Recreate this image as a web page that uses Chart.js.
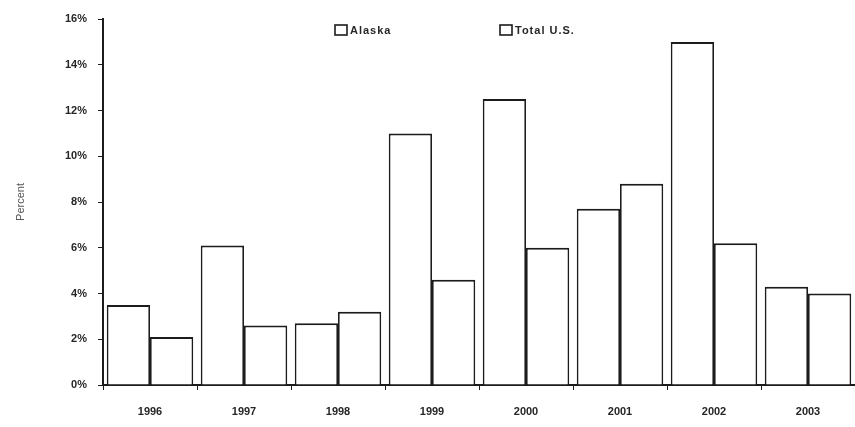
<!DOCTYPE html>
<html>
<head>
<meta charset="utf-8">
<script src="https://cdn.jsdelivr.net/npm/chart.js@4/dist/chart.umd.min.js"></script>
<style>
  html, body { margin: 0; padding: 0; background: #fff; }
  #wrap { width: 855px; height: 427px; }
</style>
</head>
<body>
<div id="wrap"><canvas id="chart" width="855" height="427"></canvas></div>
<script>
// Annual percent change, Alaska vs. Total U.S.
const years = ['1996', '1997', '1998', '1999', '2000', '2001', '2002', '2003'];
const alaska = [3.5, 6.1, 2.7, 11.0, 12.5, 7.7, 15.0, 4.3];
const totalUS = [2.1, 2.6, 3.2, 4.6, 6.0, 8.8, 6.2, 4.0];
const seriesNames = ['Alaska', 'Total U.S.'];
const yMin = 0, yMax = 16, yStep = 2;
const yTitle = 'Percent';

const INK = '#1c1c1c';
const TEXT = '#262626';
const FONT = "'Liberation Sans', Arial, sans-serif";

// Legend drawn inside the plot, above the bars
const insideLegend = {
  id: 'insideLegend',
  afterDraw(chart, args, opts) {
    const ctx = chart.ctx;
    ctx.save();
    ctx.font = 'bold 11px ' + FONT;
    ctx.letterSpacing = '1px';
    ctx.textBaseline = 'middle';
    ctx.textAlign = 'left';
    chart.data.datasets.forEach((ds, i) => {
      const x = opts.itemX[i];
      const y = opts.y;
      ctx.fillStyle = '#fff';
      ctx.strokeStyle = INK;
      ctx.lineWidth = 1.6;
      ctx.fillRect(x, y - 5, 12, 10);
      ctx.strokeRect(x, y - 5, 12, 10);
      ctx.fillStyle = TEXT;
      ctx.fillText(ds.label, x + 15, y + 0.5);
    });
    ctx.restore();
  }
};

const barStyle = {
  backgroundColor: '#ffffff',
  borderColor: INK,
  borderWidth: { top: 2, left: 1.75, right: 1.75, bottom: 0 },
  borderSkipped: false,
  barPercentage: 1.0,
  categoryPercentage: 0.92
};

new Chart(document.getElementById('chart'), {
  type: 'bar',
  data: {
    labels: years,
    datasets: [
      Object.assign({ label: seriesNames[0], data: alaska }, barStyle),
      Object.assign({ label: seriesNames[1], data: totalUS }, barStyle)
    ]
  },
  plugins: [insideLegend],
  options: {
    responsive: false,
    animation: false,
    devicePixelRatio: 1,
    layout: { padding: { top: 19, right: -3, left: 0, bottom: 0 } },
    plugins: {
      legend: { display: false },
      tooltip: { enabled: false },
      insideLegend: { itemX: [335, 500], y: 30 }
    },
    scales: {
      x: {
        offset: true,
        grid: { display: true, drawOnChartArea: false, drawTicks: true, tickLength: 5, color: INK, lineWidth: 1, offset: true },
        border: { display: true, color: INK, width: 2 },
        ticks: { color: TEXT, padding: 15, font: { family: FONT, size: 11, weight: 'bold' } },
        afterFit: s => { s.height = 42; }
      },
      y: {
        min: yMin, max: yMax,
        grid: { display: true, drawOnChartArea: false, drawTicks: true, tickLength: 5, color: INK, lineWidth: 1 },
        border: { display: true, color: INK, width: 2 },
        ticks: {
          stepSize: yStep, color: TEXT, padding: 11,
          font: { family: FONT, size: 11, weight: 'bold' },
          callback: v => v + '%'
        },
        title: {
          display: true, text: yTitle, color: '#555',
          font: { family: FONT, size: 11 },
          padding: { top: 14, bottom: 0 }
        },
        afterFit: s => { s.width = 103; }
      }
    }
  }
});
</script>
</body>
</html>
